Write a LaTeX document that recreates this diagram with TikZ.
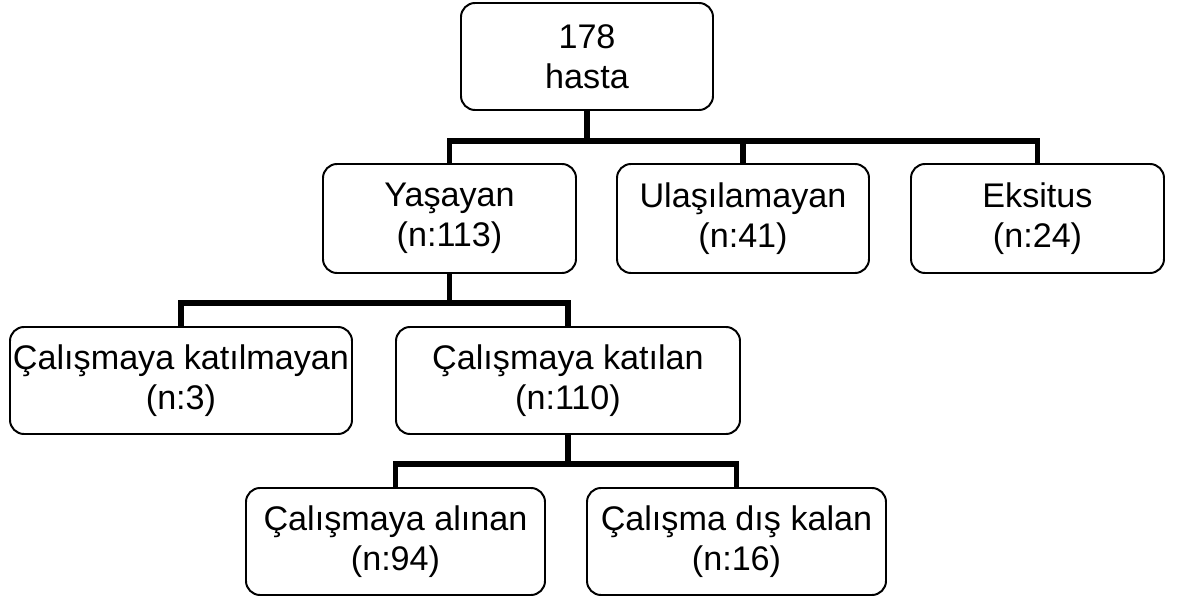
\documentclass[tikz,border=0pt]{standalone}
\usepackage{fontspec}
\setmainfont{Liberation Sans}
\begin{document}
\begin{tikzpicture}[
  kutu/.style={draw=black,line width=1.4pt,rounded corners=10pt,align=center,
    minimum height=2.675cm,inner sep=0pt,font=\fontsize{24.3}{28.5}\selectfont},
  kol/.style={black,line width=3.9pt}
]
\useasboundingbox (0,0) rectangle (29.525,14.975);

%---------------------------------------------------
\node[kutu,minimum width=6.3cm] (hasta) at (14.675,13.5625) {178\\hasta};

%---------------------------------------------------
\node[kutu,minimum width=6.325cm,minimum height=2.725cm] (yasayan) at (11.2375,9.5125) {Yaşayan\\(n:113)};
\node[kutu,minimum width=6.3cm,minimum height=2.725cm]   (ulas)    at (18.575,9.5125)  {Ulaşılamayan\\(n:41)};
\node[kutu,minimum width=6.325cm,minimum height=2.725cm] (eksitus) at (25.9375,9.5125) {Eksitus\\(n:24)};

%---------------------------------------------------
\node[kutu,minimum width=8.55cm] (katilmayan) at (4.525,5.4625) {Çalışmaya katılmayan\\(n:3)};
\node[kutu,minimum width=8.6cm]  (katilan)    at (14.2,5.4625)  {Çalışmaya katılan\\(n:110)};

%---------------------------------------------------
\node[kutu,minimum width=7.475cm] (alinan) at (9.8875,1.4375)  {Çalışmaya alınan\\(n:94)};
\node[kutu,minimum width=7.475cm] (disi)   at (18.4125,1.4375) {Çalışma dış kalan\\(n:16)};

%---------------------------------------------------
\coordinate (d1) at (14.675,11.45);
\coordinate (d2) at (11.2375,7.4);
\coordinate (d3) at (14.2,3.375);

\draw[kol] (hasta.south) -- (d1);
\draw[kol] (yasayan.north) |- (d1) -| (eksitus.north);
\draw[kol] (ulas.north) -- (ulas.north |- d1);

\draw[kol] (yasayan.south) -- (d2);
\draw[kol] (katilmayan.north) |- (d2) -| (katilan.north);

\draw[kol] (katilan.south) -- (d3);
\draw[kol] (alinan.north) |- (d3) -| (disi.north);

\end{tikzpicture}
\end{document}
